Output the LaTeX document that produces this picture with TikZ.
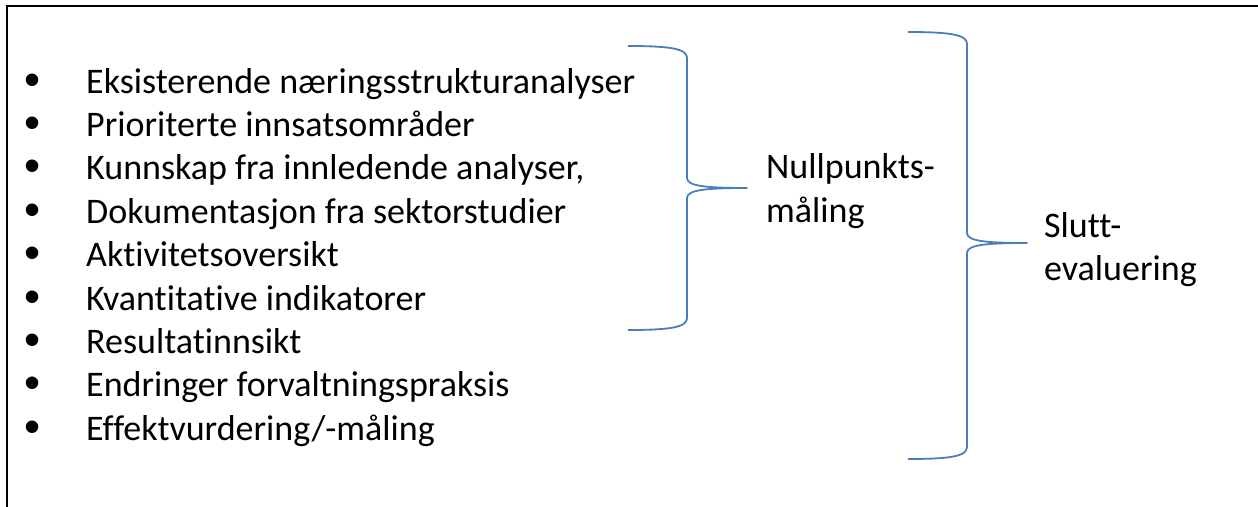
\documentclass[tikz,border=0pt]{standalone}
\usepackage{fontspec}
\setmainfont{Carlito}[Ligatures=NoCommon]
\newfontfamily\bulletfont{Liberation Sans}
\definecolor{bracecol}{HTML}{4A7EBB}
\tikzset{
  listtext/.style={anchor=base west, inner sep=0pt, font=\fontsize{36}{44}\selectfont},
  bulletmark/.style={anchor=base, inner sep=0pt, font=\bulletfont\fontsize{46}{44}\selectfont},
  label/.style={anchor=base west, inner sep=0pt, align=left, font=\fontsize{36}{44}\selectfont},
  brace/.style={draw=bracecol, line width=1.8pt, line join=round},
  frame/.style={draw=black, line width=2.2pt}
}
\begin{document}
\begin{tikzpicture}[x=1pt,y=-1pt]
\useasboundingbox (0,0) rectangle (1258,506);
\draw[frame] (1260,6) -- (7,6) -- (7,510);
% list
\foreach \t [count=\i] in {Eksisterende næringsstrukturanalyser,Prioriterte innsatsområder,{Kunnskap fra innledende analyser,},Dokumentasjon fra sektorstudier,Aktivitetsoversikt,Kvantitative indikatorer,Resultatinnsikt,Endringer forvaltningspraksis,Effektvurdering/-måling}{
  \pgfmathsetmacro{\yy}{93+(\i-1)*43.4}
  \node[bulletmark] (b\i) at (33,\yy+2) {•};
  \node[listtext] (t\i) at (86,\yy) {\t};
}
% labels
\node[label] (null) at (766,178) {Nullpunkts-};
\node[label] (nullb) at (766,222) {måling};
\node[label] (slutt) at (1044,237) {Slutt-};
\node[label] (sluttb) at (1044,280) {evaluering};
% brace 1
\coordinate (a1) at (628,46);
\coordinate (a2) at (747,188);
\coordinate (a3) at (628,330);
\draw[brace] (a1) .. controls (672,46) and (687,49) .. (687,58)
  -- (687,178) .. controls (687,186) and (705,188) .. (a2)
  .. controls (705,188) and (687,190) .. (687,198)
  -- (687,318) .. controls (687,327) and (672,330) .. (a3);
% brace 2
\coordinate (c1) at (908,32);
\coordinate (c2) at (1027,243);
\coordinate (c3) at (908,459);
\draw[brace] (c1) .. controls (952,32) and (967,35) .. (967,44)
  -- (967,233) .. controls (967,241) and (985,243) .. (c2)
  .. controls (985,243) and (967,245) .. (967,253)
  -- (967,447) .. controls (967,456) and (952,459) .. (c3);
\end{tikzpicture}
\end{document}
